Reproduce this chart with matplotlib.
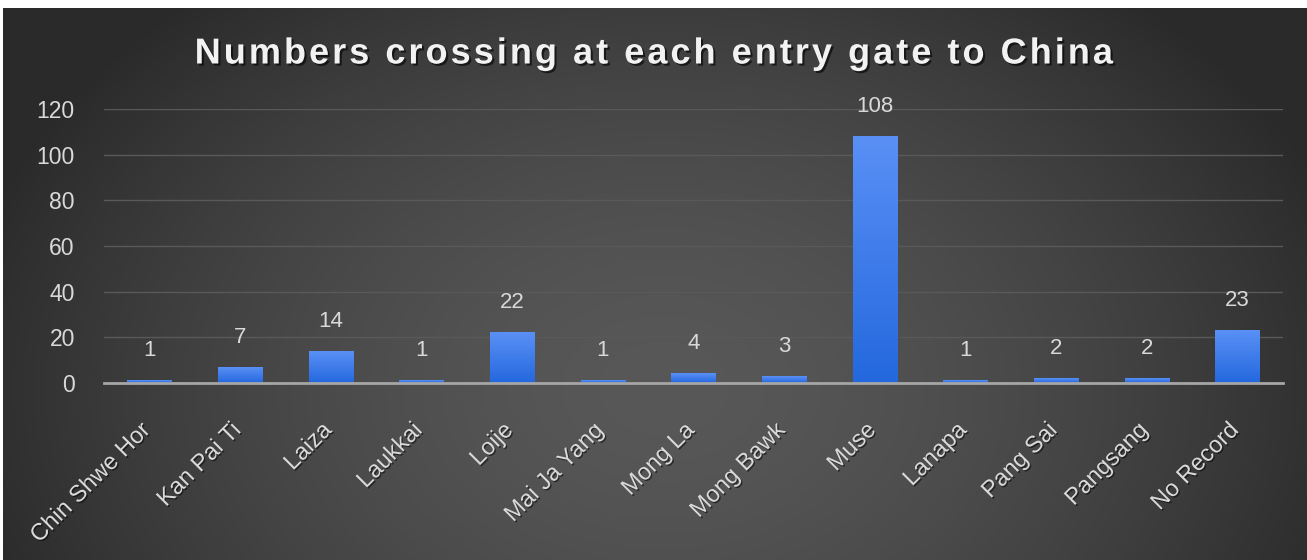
import numpy as np
import matplotlib
matplotlib.use("Agg")
import matplotlib.pyplot as plt
from matplotlib.colors import LinearSegmentedColormap
from matplotlib.transforms import ScaledTranslation
import matplotlib.patheffects as pe

categories = ["Chin Shwe Hor", "Kan Pai Ti", "Laiza", "Laukkai", "Loije", "Mai Ja Yang",
              "Mong La", "Mong Bawk", "Muse", "Lanapa", "Pang Sai", "Pangsang", "No Record"]
values = [1, 7, 14, 1, 22, 1, 4, 3, 108, 1, 2, 2, 23]
yticks = [0, 20, 40, 60, 80, 100, 120]
title = "Numbers crossing at each entry gate to China"

W, H = 1307, 560
fig = plt.figure(figsize=(W / 100, H / 100), dpi=100, facecolor="white")
plt.rcParams["font.family"] = ["Liberation Sans", "DejaVu Sans"]

# background radial gradient
bg = fig.add_axes([3 / W, 0, 1 - 3 / W, 1 - 8 / H])
bg.set_zorder(-10)
yy, xx = np.mgrid[0:552, 0:1304]
cx, cy = 660, 380
d = np.sqrt(((xx - cx) / 720.0) ** 2 + ((yy - cy) / 520.0) ** 2)
d = np.clip(d, 0, 1)
lum = 0.345 - (0.345 - 0.165) * d ** 1.6
img = np.dstack([lum, lum, lum])
bg.imshow(img, aspect="auto", extent=[0, 1, 0, 1], origin="upper")
bg.set_axis_off()

ax = fig.add_axes([104 / W, 1 - 383 / H, (1283 - 104) / W, (383 - 109) / H])
ax.patch.set_alpha(0)
x = np.arange(len(categories))
bars = ax.bar(x, values, width=0.49, color="#3f82f2", zorder=3)

cmap = LinearSegmentedColormap.from_list("bg", ["#2468de", "#5a90f6"])
grad = np.linspace(0, 1, 256).reshape(-1, 1)
for b in bars:
    bx, by, bw, bh = b.get_x(), b.get_y(), b.get_width(), b.get_height()
    b.set_alpha(0)
    ax.imshow(grad, cmap=cmap, extent=[bx, bx + bw, by, by + bh], origin="lower",
              aspect="auto", zorder=3)

for xi, v in zip(x, values):
    ax.annotate(str(v), (xi, v), xytext=(0, 14), textcoords="offset points",
                ha="center", va="bottom", color="#d9d9d9", fontsize=16)

ax.set_xlim(-0.5, len(categories) - 0.5)
ax.set_ylim(0, 120)
ax.set_yticks(yticks)
ax.set_yticklabels([str(t) for t in yticks])
ax.grid(axis="y", color="#595959", linewidth=1, zorder=0)
ax.set_axisbelow(True)
for s in ["top", "right", "left"]:
    ax.spines[s].set_visible(False)
ax.spines["bottom"].set_color("#a6a6a6")
ax.spines["bottom"].set_linewidth(2)
ax.spines["bottom"].set_zorder(4)
ax.tick_params(axis="y", length=0, pad=21, labelcolor="#d9d9d9", labelsize=16.5)
ax.tick_params(axis="x", length=0, pad=26, labelcolor="#d9d9d9", labelsize=17)
ax.set_xticks(x)
ax.set_xticklabels(categories, rotation=45, ha="right", rotation_mode="anchor")
shift = ScaledTranslation(-10 / 100, 0, fig.dpi_scale_trans)
for lab in ax.get_xticklabels():
    lab.set_transform(lab.get_transform() + shift)
    lab.set_path_effects([pe.withSimplePatchShadow(offset=(1, -1), shadow_rgbFace="black", alpha=0.5)])

spaced_title = "\u200a".join(title)
fig.text(0.5, 1 - 54 / H, spaced_title, ha="center", va="center", color="#f2f2f2",
         fontsize=26, fontweight="bold",
         path_effects=[pe.withSimplePatchShadow(offset=(1.5, -1.5), shadow_rgbFace="black", alpha=0.6)])

fig.savefig("out.png", dpi=100, facecolor="white")
